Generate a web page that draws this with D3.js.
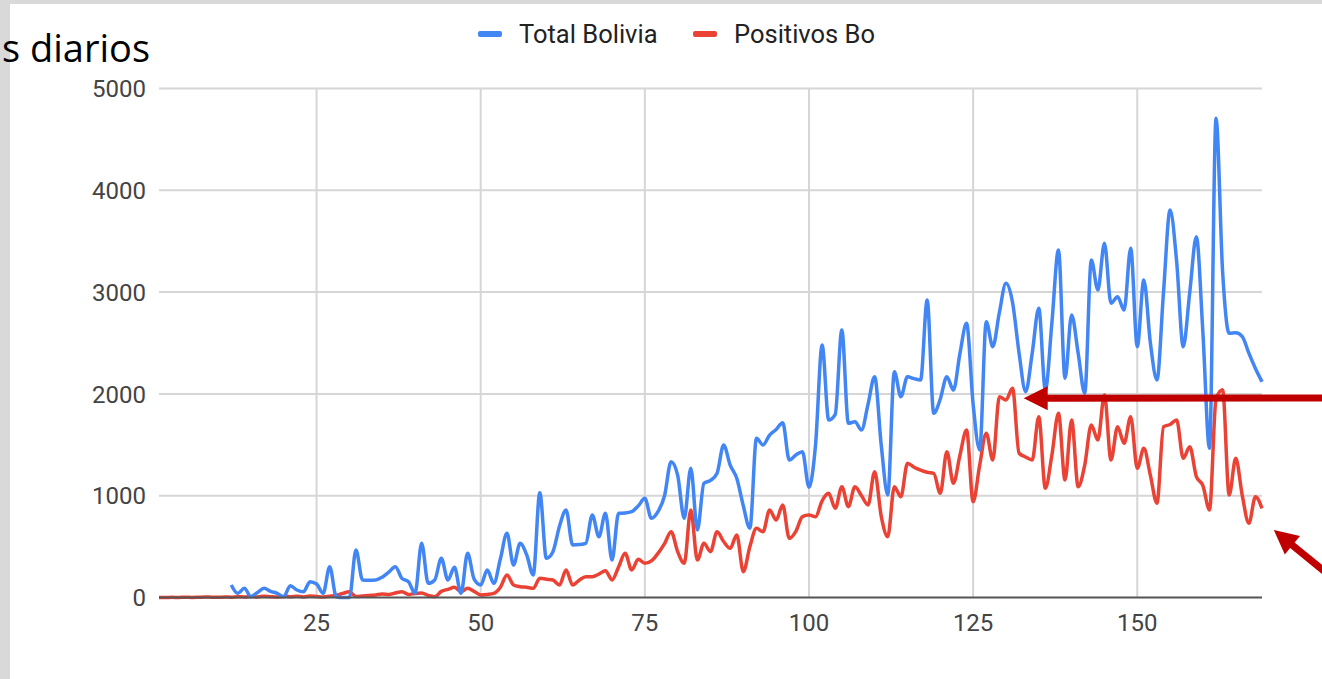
<!DOCTYPE html>
<html>
<head>
<meta charset="utf-8">
<script src="https://cdn.jsdelivr.net/npm/d3@7"></script>
<style>
  html, body { margin: 0; padding: 0; background: #d9d9d9; overflow: hidden; }
  svg { display: block; }
</style>
</head>
<body>
<script>
const WIDTH = 1322;
const HEIGHT = 679;

// day numbers on the x axis
const dias = d3.range(1, 170);

// Total Bolivia (no data before day 12)
const totalBolivia = [
  null, null, null, null, null, null, null, null, null, null, null,
  123, 41, 90, 8, 50, 90, 60, 41, 8, 116,
  74, 57, 155, 133, 41, 303, 8, 0, 0, 466,
  172, 170, 172, 200, 250, 303, 188, 155, 41, 532,
  139, 172, 385, 172, 296, 41, 434, 180, 123, 270,
  139, 380, 630, 319, 532, 420, 221, 1030, 385, 450,
  700, 860, 516, 520, 532, 810, 597, 827, 368, 827,
  830, 843, 900, 974, 778, 843, 1000, 1334, 1200, 778,
  1269, 663, 1122, 1150, 1220, 1498, 1300, 1171, 900, 680,
  1564, 1498, 1596, 1650, 1717, 1351, 1400, 1432, 1082, 1500,
  2480, 1744, 1800, 2628, 1711, 1727, 1645, 1900, 2169, 1500,
  1007, 2218, 1973, 2169, 2150, 2137, 2922, 1809, 1950, 2169,
  2038, 2400, 2693, 1900, 1449, 2709, 2464, 2800, 3086, 2900,
  2400, 2022, 2400, 2841, 2038, 2700, 3414, 2153, 2775, 2400,
  2006, 3315, 3021, 3479, 2890, 2955, 2824, 3430, 2464, 3119,
  2500, 2137, 3000, 3807, 3300, 2464, 3000, 3544, 2600, 1466,
  4707, 3200, 2595, 2600, 2562, 2400, 2250, 2120
];

// Positivos Bo
const positivosBo = [
  0, 0, 2, 0, 3, 0, 2, 5, 3, 2,
  5, 3, 8, 5, 10, 6, 12, 8, 5, 10,
  8, 12, 6, 15, 10, 5, 12, 20, 40, 57,
  10, 15, 20, 25, 34, 30, 45, 57, 30, 40,
  45, 20, 8, 60, 80, 100, 57, 90, 60, 25,
  30, 40, 100, 221, 123, 106, 100, 90, 188, 180,
  172, 123, 270, 123, 170, 204, 204, 230, 263, 172,
  300, 434, 270, 375, 336, 360, 434, 530, 646, 450,
  336, 860, 368, 532, 450, 646, 550, 483, 614, 253,
  500, 680, 646, 860, 761, 909, 581, 650, 794, 810,
  794, 950, 1023, 876, 1088, 892, 1088, 1000, 909, 1236,
  800, 597, 1088, 990, 1318, 1280, 1252, 1230, 1220, 1023,
  1432, 1122, 1400, 1645, 941, 1300, 1613, 1351, 1973, 1940,
  2055, 1417, 1380, 1351, 1776, 1073, 1400, 1809, 1154, 1744,
  1088, 1300, 1694, 1547, 1989, 1351, 1678, 1515, 1776, 1269,
  1466, 1200, 925, 1678, 1700, 1744, 1367, 1481, 1187, 1100,
  860, 1950, 2040, 1007, 1367, 1000, 729, 990, 876
];

const series = [
  {name: "Total Bolivia", color: "#4285f4", values: totalBolivia},
  {name: "Positivos Bo", color: "#ea4335", values: positivosBo}
];

const yTicks = [0, 1000, 2000, 3000, 4000, 5000];
const xTicks = [25, 50, 75, 100, 125, 150];
const titulo = "s diarios";

// annotation arrows, tip given in data units [day, value], tail in px beyond the frame
const flechas = [
  {tip: [132.7, 1957], tail: [1330, 398]},
  {tip: [170.8, 663], tail: [1335, 580]}
];

const svg = d3.select("body")
  .append("svg")
  .attr("width", WIDTH)
  .attr("height", HEIGHT);

// white card over the grey background
svg.append("rect")
  .attr("x", 10)
  .attr("y", 4)
  .attr("width", WIDTH - 10)
  .attr("height", HEIGHT - 4)
  .attr("fill", "#ffffff");

const sx = d3.scaleLinear().domain([1, 169]).range([159, 1262]);
const sy = d3.scaleLinear().domain([0, 5000]).range([597.5, 88.5]);

const fontAxis = "Roboto, 'Liberation Sans', Arial, sans-serif";

//grid
svg.append("g")
  .selectAll("line")
  .data(yTicks.filter(d => d > 0))
  .join("line")
  .attr("x1", sx.range()[0])
  .attr("x2", sx.range()[1])
  .attr("y1", d => sy(d))
  .attr("y2", d => sy(d))
  .attr("stroke", "#d6d6d6")
  .attr("stroke-width", 2);

svg.append("g")
  .selectAll("line")
  .data(xTicks)
  .join("line")
  .attr("x1", d => sx(d))
  .attr("x2", d => sx(d))
  .attr("y1", sy(5000))
  .attr("y2", sy(0))
  .attr("stroke", "#d6d6d6")
  .attr("stroke-width", 2);

//y labels
svg.append("g")
  .selectAll("text")
  .data(yTicks)
  .join("text")
  .attr("x", 146)
  .attr("y", d => sy(d))
  .attr("dy", "0.36em")
  .attr("text-anchor", "end")
  .attr("font-family", fontAxis)
  .attr("font-size", 24)
  .attr("fill", "#444")
  .text(d => d);

//x labels
svg.append("g")
  .selectAll("text")
  .data(xTicks)
  .join("text")
  .attr("x", d => sx(d))
  .attr("y", 622)
  .attr("dy", "0.36em")
  .attr("text-anchor", "middle")
  .attr("font-family", fontAxis)
  .attr("font-size", 24)
  .attr("fill", "#444")
  .text(d => d);

//lines
const line = d3.line()
  .defined(d => d[1] !== null)
  .x(d => sx(d[0]))
  .y(d => sy(d[1]))
  .curve(d3.curveMonotoneX);

// red first so the blue sits on top like in the sheet
series.slice().reverse().forEach(s => {
  svg.append("path")
    .datum(dias.map((d, i) => [d, s.values[i]]))
    .attr("fill", "none")
    .attr("stroke", s.color)
    .attr("stroke-width", 3.5)
    .attr("stroke-linejoin", "round")
    .attr("d", line);
});

// baseline
svg.append("line")
  .attr("x1", sx.range()[0])
  .attr("x2", sx.range()[1])
  .attr("y1", sy(0))
  .attr("y2", sy(0))
  .attr("stroke", "#555")
  .attr("stroke-width", 2);

//legend
const legendX = [478, 693];
const legend = svg.append("g");
series.forEach((s, i) => {
  legend.append("rect")
    .attr("x", legendX[i])
    .attr("y", 31)
    .attr("width", 24)
    .attr("height", 6)
    .attr("rx", 2)
    .attr("fill", s.color);
  legend.append("text")
    .attr("x", legendX[i] + 41)
    .attr("y", 34)
    .attr("dy", "0.36em")
    .attr("font-family", fontAxis)
    .attr("font-size", 25.5)
    .attr("fill", "#222")
    .text(s.name);
});

//title, tucked against the left edge of the slide
svg.append("text")
  .attr("x", 2)
  .attr("y", 62)
  .attr("text-anchor", "start")
  .attr("font-family", "'Open Sans', 'Noto Sans', sans-serif")
  .attr("font-size", 38)
  .attr("fill", "#000")
  .text(titulo);

//arrows
const ARROW = "#c00000";
flechas.forEach(f => {
  const tx = sx(f.tip[0]);
  const ty = sy(f.tip[1]);
  const ang = Math.atan2(f.tail[1] - ty, f.tail[0] - tx);
  const headLen = 24;
  const headHalf = 12;
  const bx = tx + headLen * Math.cos(ang);
  const by = ty + headLen * Math.sin(ang);
  const nx = -Math.sin(ang);
  const ny = Math.cos(ang);

  svg.append("line")
    .attr("x1", bx - 2 * Math.cos(ang))
    .attr("y1", by - 2 * Math.sin(ang))
    .attr("x2", f.tail[0])
    .attr("y2", f.tail[1])
    .attr("stroke", ARROW)
    .attr("stroke-width", 7);

  svg.append("path")
    .attr("d", `M${tx},${ty}L${bx + nx * headHalf},${by + ny * headHalf}L${bx - nx * headHalf},${by - ny * headHalf}Z`)
    .attr("fill", ARROW);
});
</script>
</body>
</html>
